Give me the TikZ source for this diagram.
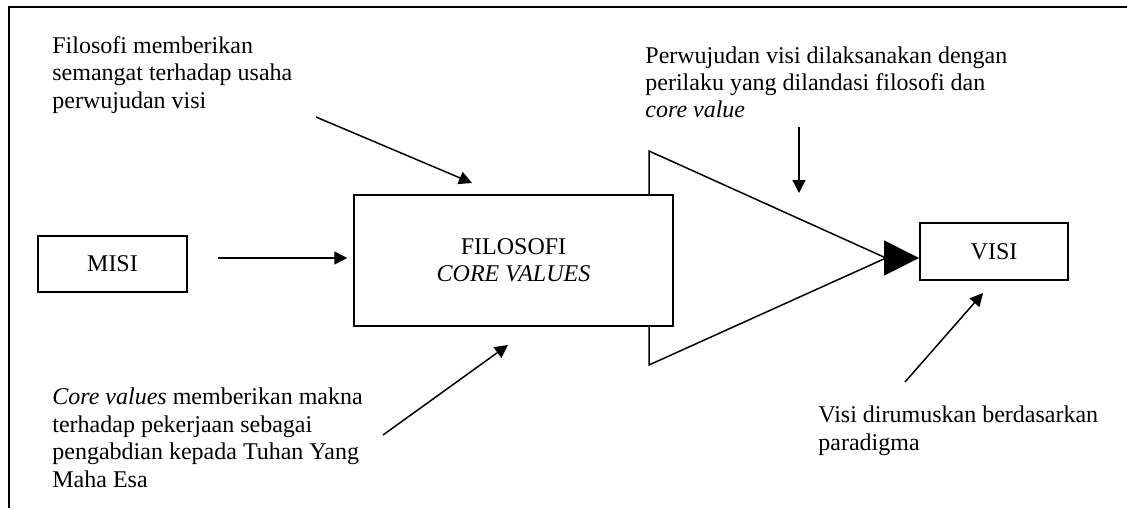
\documentclass[tikz,border=0pt]{standalone}
\usepackage{fontspec}
\setmainfont{Liberation Serif}
\usetikzlibrary{arrows.meta}
\begin{document}
\begin{tikzpicture}[x=0.5pt,y=-0.5pt,
  box/.style={draw,line width=0.75pt,fill=white,inner sep=0,font=\fontsize{12}{13.7}\selectfont,align=center},
  lbl/.style={font=\fontsize{12}{13.7}\selectfont,align=left,inner sep=0,anchor=base west},
  arr/.style={-{Triangle[length=6.5pt,width=6.5pt]},line width=0.75pt},
  bigarr/.style={-{Triangle[length=17.5pt,width=17.5pt]},line width=0.75pt},
  ]
\useasboundingbox (0,0) rectangle (1127,508);
% frame
\draw[line width=1pt] (9,508) -- (9,7) -- (1127,7);
% amplifier triangle
\coordinate (apex) at (886,258);
\coordinate (tip) at (919,258);
\draw[line width=0.75pt,fill=white] (649,151) -- (apex) -- (649,365) -- cycle;
% boxes
\node[box,minimum width=74.5pt,minimum height=28pt] (misi) at (112.5,264) {MISI};
\node[box,minimum width=159.5pt,minimum height=65.5pt] (filo) at (513.5,260.5) {FILOSOFI\\\textit{CORE VALUES}};
\node[box,minimum width=74pt,minimum height=28.5pt] (visi) at (994,251.5) {VISI};
% labels (anchored at the baseline of their last line)
\node[lbl] (t1) at (52,108) {Filosofi memberikan\\semangat terhadap usaha\\perwujudan visi};
\node[lbl] (t2) at (645,118) {Perwujudan visi dilaksanakan dengan\\perilaku yang dilandasi filosofi dan\\\textit{core value}};
\node[lbl] (t3) at (52,487) {\textit{Core values} memberikan makna\\terhadap pekerjaan sebagai\\pengabdian kepada Tuhan Yang\\Maha Esa};
\node[lbl] (t4) at (818,450) {Visi dirumuskan berdasarkan\\paradigma};
% arrow end points
\coordinate (a1s) at (316,117);
\coordinate (a1e) at (472,183);
\coordinate (a2s) at (799,127);
\coordinate (a2e) at (799,193);
\coordinate (a3s) at (383,435);
\coordinate (a3e) at (508,345);
\coordinate (a4s) at (905,382);
\coordinate (a4e) at (983,293);
% connectors
\draw[arr] ([shift={(30,-6)}]misi.east) -- ([shift={(-6,-2.5)}]filo.west);
\draw[arr] (a1s) -- (a1e);
\draw[arr] (a2s) -- (a2e);
\draw[arr] (a3s) -- (a3e);
\draw[arr] (a4s) -- (a4e);
\draw[bigarr] (apex) -- (tip);
\end{tikzpicture}
\end{document}
